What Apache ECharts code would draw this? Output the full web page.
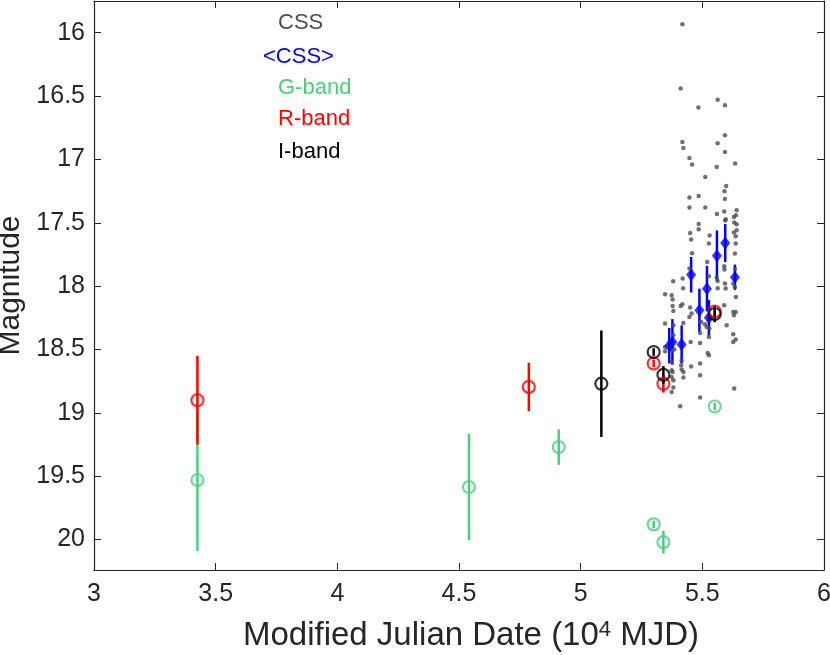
<!DOCTYPE html>
<html>
<head>
<meta charset="utf-8">
<script src="https://cdn.jsdelivr.net/npm/echarts@6/dist/echarts.min.js"></script>
<style>
  html, body { margin: 0; padding: 0; background: #fff; }
  #chart { width: 830px; height: 655px; }
</style>
</head>
<body>
<div id="chart"></div>
<script>
/* CSS single points (grey dots) */
var cssX = [5.418, 5.411, 5.563, 5.593, 5.484, 5.593, 5.563, 5.418, 5.422, 5.593,
  5.447, 5.458, 5.559, 5.635, 5.512, 5.598, 5.591, 5.485, 5.447, 5.593,
  5.447, 5.512, 5.641, 5.590, 5.560, 5.638, 5.630, 5.596, 5.594, 5.631,
  5.641, 5.485, 5.485, 5.641, 5.630, 5.450, 5.530, 5.637, 5.454, 5.527,
  5.637, 5.458, 5.634, 5.520, 5.590, 5.591, 5.447, 5.527, 5.634, 5.419,
  5.380, 5.559, 5.563, 5.593, 5.421, 5.563, 5.627, 5.634, 5.596, 5.638,
  5.347, 5.374, 5.378, 5.418, 5.411, 5.378, 5.450, 5.590, 5.381, 5.456,
  5.447, 5.627, 5.637, 5.630, 5.495, 5.422, 5.347, 5.381, 5.600, 5.511,
  5.518, 5.529, 5.491, 5.381, 5.627, 5.527, 5.637, 5.627, 5.452, 5.491,
  5.347, 5.385, 5.374, 5.347, 5.522, 5.527, 5.415, 5.374, 5.491, 5.413,
  5.415, 5.422, 5.454, 5.374, 5.378, 5.491, 5.374, 5.381, 5.422, 5.381,
  5.374, 5.631, 5.491, 5.409];
var cssY = [15.933, 16.440, 16.530, 16.572, 16.590, 16.809, 16.872, 16.862, 16.909, 16.941,
  16.988, 17.040, 17.059, 17.032, 17.138, 17.209, 17.251, 17.288, 17.301, 17.312,
  17.380, 17.380, 17.401, 17.411, 17.430, 17.440, 17.454, 17.472, 17.482, 17.498,
  17.511, 17.509, 17.551, 17.559, 17.577, 17.580, 17.601, 17.606, 17.632, 17.664,
  17.664, 17.740, 17.743, 17.809, 17.843, 17.869, 17.861, 17.922, 17.864, 17.940,
  17.961, 17.932, 17.959, 17.979, 18.017, 18.017, 17.979, 18.006, 18.019, 18.085,
  18.064, 18.072, 18.106, 18.143, 18.156, 18.156, 18.169, 18.151, 18.196, 18.216,
  18.243, 18.204, 18.204, 18.230, 18.283, 18.290, 18.295, 18.309, 18.309, 18.301,
  18.322, 18.335, 18.369, 18.388, 18.380, 18.401, 18.421, 18.440, 18.440, 18.448,
  18.480, 18.500, 18.506, 18.514, 18.527, 18.545, 18.585, 18.598, 18.611, 18.624,
  18.658, 18.677, 18.635, 18.664, 18.677, 18.703, 18.717, 18.743, 18.721, 18.800,
  18.835, 18.808, 18.879, 18.948];

/* <CSS> binned means */
var avgX = [5.364, 5.377, 5.415, 5.454, 5.488, 5.519, 5.527, 5.560, 5.594, 5.634];
var avgY = [18.47, 18.44, 18.46, 17.91, 18.19, 18.02, 18.25, 17.76, 17.66, 17.93];
var avgErr = [0.14, 0.18, 0.15, 0.14, 0.17, 0.18, 0.14, 0.20, 0.15, 0.10];

/* G-band */
var gX = [3.425, 4.541, 4.910, 5.300, 5.340, 5.551];
var gY = [19.53, 19.585, 19.27, 19.88, 20.02, 18.95];
var gErr = [0.56, 0.42, 0.14, 0.03, 0.09, 0.03];

/* R-band */
var rX = [3.425, 4.787, 5.300, 5.340, 5.551];
var rY = [18.90, 18.795, 18.61, 18.77, 18.20];
var rErr = [0.35, 0.19, 0.03, 0.07, 0.04];

/* I-band */
var iX = [5.085, 5.300, 5.340, 5.551];
var iY = [18.77, 18.52, 18.70, 18.22];
var iErr = [0.42, 0.03, 0.07, 0.065];

var xTicks = [3, 3.5, 4, 4.5, 5, 5.5, 6];
var yTicks = [16, 16.5, 17, 17.5, 18, 18.5, 19, 19.5, 20];

var FONT = 'Liberation Sans, Arial, Helvetica, sans-serif';
var AXC = '#262626';
var GREEN = '#4dcc80';

function zip(xs, ys, es) {
  var out = [];
  for (var i = 0; i < xs.length; i++) {
    out.push(es ? [xs[i], ys[i], es[i]] : [xs[i], ys[i]]);
  }
  return out;
}

/* vertical error bars */
function errBars(name, xs, ys, es, color) {
  return {
    name: name,
    type: 'custom',
    data: zip(xs, ys, es),
    encode: { x: 0, y: 1 },
    silent: true,
    renderItem: function (params, api) {
      var x = api.value(0), y = api.value(1), e = api.value(2);
      var p1 = api.coord([x, y - e]);
      var p2 = api.coord([x, y + e]);
      return {
        type: 'line',
        shape: { x1: p1[0], y1: p1[1], x2: p2[0], y2: p2[1] },
        style: { stroke: color, lineWidth: 2.5 }
      };
    }
  };
}

function ringSeries(name, xs, ys, color) {
  return {
    name: name,
    type: 'scatter',
    data: zip(xs, ys),
    symbol: 'circle',
    symbolSize: 12,
    itemStyle: { color: 'rgba(0,0,0,0)', borderColor: color, borderWidth: 2.2 }
  };
}

function mirrorX(pos) {
  return {
    type: 'value', position: pos, min: 3, max: 6, interval: 0.5,
    axisLine: { show: true, onZero: false, lineStyle: { color: AXC, width: 1.2 } },
    axisTick: { show: true, inside: true, length: 7, lineStyle: { color: AXC } },
    axisLabel: { show: false },
    splitLine: { show: false }
  };
}

function mirrorY(pos) {
  return {
    type: 'value', position: pos, inverse: true, min: 15.75, max: 20.24,
    axisLine: { show: true, onZero: false, lineStyle: { color: AXC, width: 1.2 } },
    axisTick: { show: true, inside: true, length: 7, customValues: yTicks, lineStyle: { color: AXC } },
    axisLabel: { show: false, customValues: yTicks },
    splitLine: { show: false }
  };
}

var myChart = echarts.init(document.getElementById('chart'));

var xMain = mirrorX('bottom');
xMain.axisLabel = { show: true, customValues: xTicks, color: AXC, fontSize: 25, fontFamily: FONT, margin: 12 };
xMain.name = 'Modified Julian Date (10{sup|4} MJD)';
xMain.nameLocation = 'middle';
xMain.nameGap = 49;
xMain.nameTextStyle = {
  color: AXC, fontSize: 33, fontFamily: FONT, padding: [0, 0, 0, 24],
  rich: { sup: { fontSize: 22, fontFamily: FONT, color: AXC, verticalAlign: 'top', padding: [0, 0, 12, 0] } }
};

var yMain = mirrorY('left');
yMain.axisLabel = { show: true, customValues: yTicks, color: AXC, fontSize: 25, fontFamily: FONT, margin: 9 };
yMain.name = 'Magnitude';
yMain.nameLocation = 'middle';
yMain.nameGap = 56;
yMain.nameTextStyle = { color: AXC, fontSize: 30, fontFamily: FONT };

var option = {
  animation: false,
  grid: { left: 94, right: 6, top: 1, bottom: 85, outerBoundsMode: 'none' },
  xAxis: [xMain, mirrorX('top')],
  yAxis: [yMain, mirrorY('right')],
  graphic: [
    { type: 'text', left: 278, top: 12, style: { text: 'CSS', fill: '#4d4d4d', font: '22px ' + FONT } },
    { type: 'text', left: 263, top: 46, style: { text: '<CSS>', fill: '#0000ff', font: '22px ' + FONT } },
    { type: 'text', left: 278, top: 77, style: { text: 'G-band', fill: GREEN, font: '22px ' + FONT } },
    { type: 'text', left: 278, top: 108, style: { text: 'R-band', fill: '#ff0000', font: '22px ' + FONT } },
    { type: 'text', left: 278, top: 141, style: { text: 'I-band', fill: '#000000', font: '22px ' + FONT } }
  ],
  series: [
    {
      name: 'CSS',
      type: 'scatter',
      data: zip(cssX, cssY),
      symbolSize: 4.5,
      itemStyle: { color: '#4d4d4d' }
    },
    errBars('<CSS> err', avgX, avgY, avgErr, '#0000ff'),
    {
      name: '<CSS>',
      type: 'scatter',
      data: zip(avgX, avgY),
      symbol: 'diamond',
      symbolSize: [10, 13],
      itemStyle: { color: '#0000ff' }
    },
    errBars('G err', gX, gY, gErr, GREEN),
    ringSeries('G-band', gX, gY, GREEN),
    errBars('R err', rX, rY, rErr, '#ff0000'),
    ringSeries('R-band', rX, rY, '#ff0000'),
    errBars('I err', iX, iY, iErr, '#000000'),
    ringSeries('I-band', iX, iY, '#000000')
  ]
};

myChart.setOption(option);
</script>
</body>
</html>
